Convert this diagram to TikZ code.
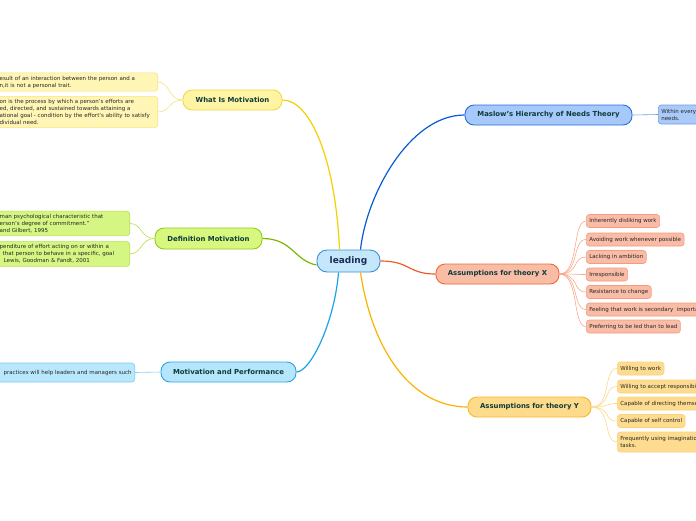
\documentclass[tikz,border=0pt]{standalone}
\usepackage{fontspec}
\setmainfont{DejaVu Sans}
\definecolor{titlecol}{HTML}{0E3B3A}
\definecolor{leadtext}{HTML}{1B2B55}
\definecolor{leafcol}{HTML}{262626}
\definecolor{leadfill}{HTML}{C4E7FB}
\definecolor{leaddraw}{HTML}{3A92D2}
\definecolor{yline}{HTML}{F5D000}
\definecolor{yfill}{HTML}{FFF4A3}
\definecolor{ydraw}{HTML}{F2D94A}
\definecolor{ylfill}{HTML}{FFF6B5}
\definecolor{yldraw}{HTML}{F8E27E}
\definecolor{gline}{HTML}{7DB900}
\definecolor{gfill}{HTML}{D8F77E}
\definecolor{gdraw}{HTML}{93CC1C}
\definecolor{glfill}{HTML}{D6F683}
\definecolor{gldraw}{HTML}{B5E04E}
\definecolor{cline}{HTML}{1AA3E8}
\definecolor{cfill}{HTML}{B5E6FB}
\definecolor{cdraw}{HTML}{2BA5E2}
\definecolor{clfill}{HTML}{B9E7FB}
\definecolor{cldraw}{HTML}{7ECDF3}
\definecolor{bline}{HTML}{0A5BD1}
\definecolor{bfill}{HTML}{A7C8FA}
\definecolor{bdraw}{HTML}{2A70DC}
\definecolor{blfill}{HTML}{AACAFA}
\definecolor{bldraw}{HTML}{6A9EE8}
\definecolor{xline}{HTML}{F05A28}
\definecolor{xfill}{HTML}{F9BCA5}
\definecolor{xdraw}{HTML}{EF6A3C}
\definecolor{xlfill}{HTML}{F9BCA7}
\definecolor{xldraw}{HTML}{F59C7C}
\definecolor{xtwig}{HTML}{F8AA8C}
\definecolor{oline}{HTML}{FBB300}
\definecolor{ofill}{HTML}{FDDB8A}
\definecolor{odraw}{HTML}{F7B82A}
\definecolor{olfill}{HTML}{FDDC90}
\definecolor{oldraw}{HTML}{FBD27A}
\definecolor{otwig}{HTML}{FCD98A}
\tikzset{
 mainnode/.style={draw, rounded corners=9pt, line width=0.9pt, font=\fontsize{6.9}{8}\selectfont\bfseries, text=titlecol, inner sep=0pt, minimum height=20pt},
 leafnode/.style={draw, rounded corners=3pt, line width=0.6pt, font=\fontsize{5.5}{7}\selectfont, text=leafcol, inner xsep=3pt, inner ysep=3pt, minimum height=13pt, align=left},
 branch/.style={line width=1.2pt},
 twig/.style={line width=0.6pt},
}
\begin{document}
\begin{tikzpicture}[x=1pt,y=-1pt]
\useasboundingbox (0,0) rectangle (696,520);
\fill[white] (0,0) rectangle (696,520);
\clip (0,0) rectangle (696,520);

% centre
\node[mainnode, fill=leadfill, draw=leaddraw, text=leadtext, font=\fontsize{9}{10}\selectfont\bfseries, minimum width=63pt, minimum height=22pt, rounded corners=10pt] (lead) at (348.5,261) {leading};

% main topics
\node[mainnode, fill=yfill, draw=ydraw, minimum width=99pt] (wm) at (232.5,100) {What Is Motivation};
\node[mainnode, fill=gfill, draw=gdraw, minimum width=107pt, minimum height=21pt] (dm) at (208.5,238.5) {Definition Motivation};
\node[mainnode, fill=cfill, draw=cdraw, minimum width=135pt] (pm) at (228.5,372) {Motivation and Performance};
\node[mainnode, fill=bfill, draw=bdraw, minimum width=167pt] (ms) at (548.5,115) {Maslow's Hierarchy of Needs Theory};
\node[mainnode, fill=xfill, draw=xdraw, minimum width=123pt] (tx) at (497.5,274) {Assumptions for theory X};
\node[mainnode, fill=ofill, draw=odraw, minimum width=123pt] (ty) at (529.5,407) {Assumptions for theory Y};

% branches
\draw[branch, yline] (wm.east) .. controls +(28,0) and +(-4,-90) .. ([xshift=-9pt]lead.north);
\draw[branch, gline] (dm.east) .. controls +(30,0) and +(-22,-4) .. ([yshift=-4pt]lead.west);
\draw[branch, cline] (pm.east) .. controls +(14,0) and +(-4,50) .. ([xshift=-10pt]lead.south);
\draw[branch, bline] (ms.west) .. controls +(-55,0) and +(6,-55) .. ([xshift=12pt]lead.north);
\draw[branch, xline] (lead.east) .. controls +(30,0) and +(-28,0) .. (tx.west);
\draw[branch, oline] ([xshift=12pt]lead.south) .. controls +(12,80) and +(-55,0) .. (ty.west);

% What Is Motivation leaves
\node[leafnode, fill=ylfill, draw=yldraw, anchor=east, text width=155pt] (wm1) at (158,82) {esult of an interaction between the person and a\\n,it is not a personal trait.};
\node[leafnode, fill=ylfill, draw=yldraw, anchor=east, text width=155pt] (wm2) at (158,112) {on is the process by which a person's efforts are\\ed, directed, and sustained towards attaining a\\ational goal - condition by the effort's ability to satisfy\\dividual need.};
\draw[twig, yldraw] (wm.west) .. controls +(-14,0) and +(12,0) .. (wm1.east);
\draw[twig, yldraw] (wm.west) .. controls +(-14,0) and +(12,0) .. (wm2.east);

% Definition leaves
\node[leafnode, fill=glfill, draw=gldraw, anchor=east, text width=127pt] (dm1) at (130,223.5) {man psychological characteristic that\\erson's degree of commitment.''\\and Gilbert, 1995};
\node[leafnode, fill=glfill, draw=gldraw, anchor=east, text width=127pt] (dm2) at (130,254) {penditure of effort acting on or within a\\\hspace*{3pt}that person to behave in a specific, goal\\\hspace*{4pt}Lewis, Goodman \& Fandt, 2001};
\draw[twig, gldraw] (dm.west) .. controls +(-14,0) and +(12,0) .. (dm1.east);
\draw[twig, gldraw] (dm.west) .. controls +(-14,0) and +(12,0) .. (dm2.east);

% Performance leaf
\node[leafnode, fill=clfill, draw=cldraw, anchor=east, text width=150pt, align=right, minimum height=19pt] (pm1) at (135,372.5) {e\ \ practices will help leaders and managers such};
\draw[twig, cldraw] (pm.west) -- (pm1.east);

% Maslow leaf
\node[leafnode, fill=blfill, draw=bldraw, anchor=west, text width=70pt, minimum height=19pt] (ms1) at (658,114.5) {Within every\\needs.};
\draw[twig, bldraw] (ms.east) -- (ms1.west);

% Theory X leaves
\foreach \n/\y/\t in {x1/221/Inherently disliking work, x2/239.5/Avoiding work whenever possible, x3/257/Lacking in ambition, x4/274.5/Irresponsible, x5/292/Resistance to change, x6/309.5/Feeling that work is secondary\ \ importance, x7/326.5/Preferring to be led than to lead}{
 \node[leafnode, fill=xlfill, draw=xldraw, anchor=west] (\n) at (586,\y) {\t};
 \draw[twig, xtwig] (tx.east) .. controls +(20,0) and +(-14,0) .. (\n.west);
}

% Theory Y leaves
\foreach \n/\y/\t in {y1/368.5/Willing to work, y2/386.5/Willing to accept responsibility, y3/403.5/Capable of directing themselves, y4/421/Capable of self control}{
 \node[leafnode, fill=olfill, draw=oldraw, anchor=west] (\n) at (617,\y) {\t};
 \draw[twig, otwig] (ty.east) .. controls +(20,0) and +(-14,0) .. (\n.west);
}
\node[leafnode, fill=olfill, draw=oldraw, anchor=west, minimum height=20pt] (y5) at (617,442) {Frequently using imagination\\tasks.};
\draw[twig, otwig] (ty.east) .. controls +(20,0) and +(-14,0) .. (y5.west);
\end{tikzpicture}
\end{document}
